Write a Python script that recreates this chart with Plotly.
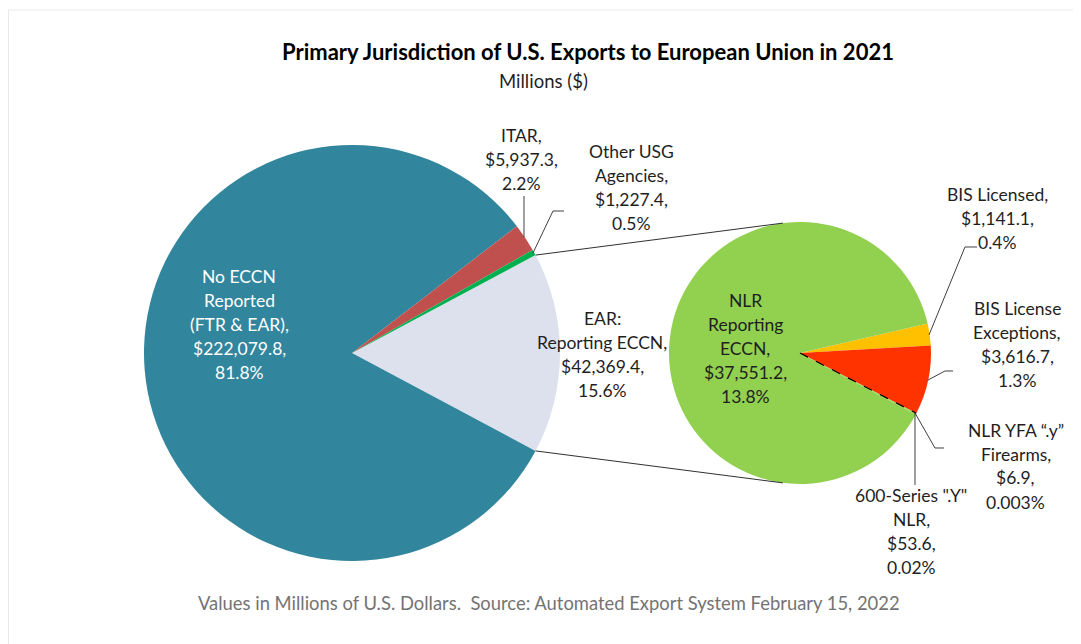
import math
import plotly.graph_objects as go

W, H = 1081, 644
OFF = 8  # default page margin round the plot div

# left pie: primary jurisdiction
main_labels = ["EAR:<br>Reporting ECCN", "No ECCN<br>Reported<br>(FTR & EAR)", "ITAR", "Other USG<br>Agencies"]
main_values = [42369.4, 222079.8, 5937.3, 1227.4]
main_pct = ["15.6%", "81.8%", "2.2%", "0.5%"]
main_colors = ["#DCE1ED", "#31859C", "#C0504D", "#00B050"]

# right pie: breakdown of EAR reporting ECCN
ear_labels = ["BIS Licensed", "BIS License<br>Exceptions", '600-Series ".Y"<br>NLR',
              "NLR YFA \u201c.y\u201d<br>Firearms", "NLR<br>Reporting<br>ECCN"]
ear_values = [1141.1, 3616.7, 53.6, 6.9, 37551.2]
ear_pct = ["0.4%", "1.3%", "0.02%", "0.003%", "13.8%"]
ear_colors = ["#FFC000", "#FF3300", "#92D050", "#92D050", "#92D050"]

TITLE = "Primary Jurisdiction of U.S. Exports to European Union in 2021"
SUBTITLE = "Millions ($)"
FOOTER = "Values in Millions of U.S. Dollars.  Source: Automated Export System February 15, 2022"

FONT = "Lato"
TXT = "#1f1f1f"

# pie geometry in page pixels
L_CX, L_CY, L_R = 352, 353, 208
R_CX, R_CY, R_R = 800, 353, 131

ear_frac = main_values[0] / sum(main_values)
main_rot = 90 - ear_frac * 180
ear_rot = 77

FW, FH = W - OFF, H - OFF


def px(x):
    return (x - OFF) / FW


def py(y):
    return 1 - (y - OFF) / FH


def on_circle(cx, cy, r, ang):
    a = math.radians(ang)
    return cx + r * math.sin(a), cy - r * math.cos(a)


def domain(cx, cy, r):
    return dict(x=[px(cx - r), px(cx + r)], y=[py(cy + r), py(cy - r)])


fig = go.Figure()

fig.add_trace(go.Pie(
    labels=main_labels, values=main_values, sort=False, direction="clockwise",
    rotation=main_rot, marker=dict(colors=main_colors, line=dict(width=0)),
    textinfo="none", hoverinfo="label+value", domain=domain(L_CX, L_CY, L_R),
    showlegend=False,
))
fig.add_trace(go.Pie(
    labels=ear_labels, values=ear_values, sort=False, direction="clockwise",
    rotation=ear_rot, marker=dict(colors=ear_colors, line=dict(width=0)),
    textinfo="none", hoverinfo="label+value", domain=domain(R_CX, R_CY, R_R),
    showlegend=False,
))


def label_lines(name, value, pct):
    lines = name.split("<br>")
    lines[-1] += ","
    return lines + [f"${value:,.1f},", pct]


def note(x, y, text, size, color=TXT):
    fig.add_annotation(x=px(x), y=py(y), xref="paper", yref="paper", text=text,
                       showarrow=False, xanchor="center", yanchor="middle",
                       font=dict(family=FONT, size=size, color=color))


def add_label(x, y, lines, color=TXT, step=24):
    for i, line in enumerate(lines):
        note(x, y + i * step, line, 17.5, color)


# label anchors (centre x, first line y)
main_pos = [(602, 318, TXT), (239, 276, "white"), (521, 135, TXT), (631, 152, TXT)]
ear_pos = [(997, 194), (1017, 308), (911, 495), (1016, 430), (745, 300)]

for name, v, p, (x, y, c) in zip(main_labels, main_values, main_pct, main_pos):
    add_label(x, y, label_lines(name, v, p), c)
for name, v, p, (x, y) in zip(ear_labels, ear_values, ear_pct, ear_pos):
    add_label(x, y, label_lines(name, v, p))

shapes = []


def polyline(pts, color="#404040", width=1, dash="solid"):
    d = "M " + " L ".join(f"{px(x):.5f},{py(y):.5f}" for x, y in pts)
    shapes.append(dict(type="path", path=d, xref="paper", yref="paper",
                       line=dict(color=color, width=width, dash=dash)))


# leader lines
polyline([(524, 196), (524, 237)])
polyline([(533, 253), (553, 211), (564, 211)])
polyline([(929, 335), (965, 247), (977, 247)])
polyline([(928, 380), (945, 371), (953, 371)])
polyline([(915, 413), (935, 448), (944, 448)])
polyline([(915, 413), (915, 485)])

# connectors between the two pies
top_l = on_circle(L_CX, L_CY, L_R, main_rot)
bot_l = on_circle(L_CX, L_CY, L_R, main_rot + ear_frac * 360)
polyline([top_l, on_circle(R_CX, R_CY, R_R, -7.5)], color="#303030")
polyline([bot_l, on_circle(R_CX, R_CY, R_R, 187.5)], color="#303030")

# dashed edge for the tiny NLR slices
tiny_ang = ear_rot + sum(ear_values[:2]) / sum(ear_values) * 360
polyline([(R_CX, R_CY), on_circle(R_CX, R_CY, R_R, tiny_ang)], color="black", width=1.2, dash="dash")

# faint chart frame
shapes.append(dict(type="rect", xref="paper", yref="paper", x0=px(8.5), x1=px(1095),
                   y0=py(660), y1=py(10), line=dict(color="#e8e8e8", width=1), layer="below"))

note(588, 51, f"<b>{TITLE}</b>", 22, "black")
note(543, 81, SUBTITLE, 18.5)
note(549, 603, FOOTER, 18.4, "#737373")

fig.update_layout(
    width=FW, height=FH, margin=dict(l=0, r=0, t=0, b=0),
    paper_bgcolor="white", plot_bgcolor="white", shapes=shapes,
)

fig.write_html("out.html")
